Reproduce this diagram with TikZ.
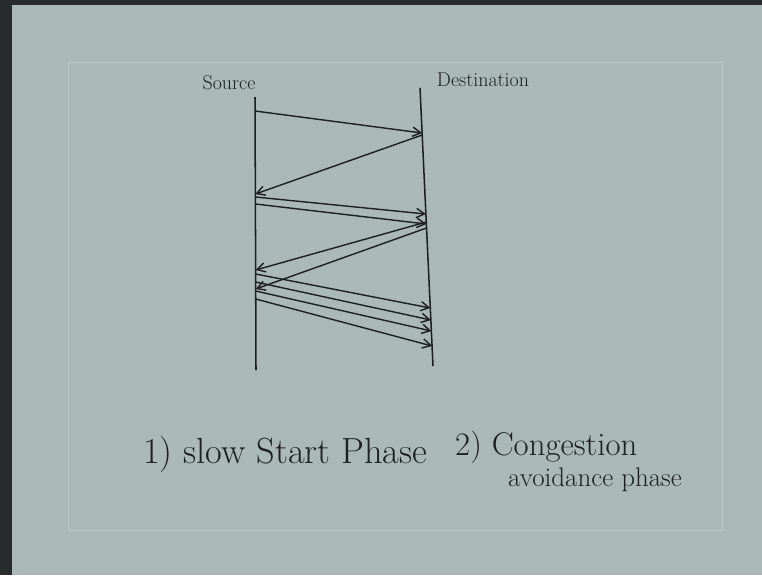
\documentclass[tikz,border=0pt]{standalone}
\definecolor{paper}{RGB}{170,184,182}
\definecolor{ink}{RGB}{28,32,32}
\definecolor{frame}{RGB}{40,44,44}
\usepackage{tikz}
\usetikzlibrary{arrows.meta, positioning, calc}

\begin{document}
\begin{tikzpicture}[x=0.03cm, y=-0.03cm,
  lifeline/.style={draw=ink, line width=1.3pt},
  msg/.style={draw=ink, line width=1.2pt, -{Straight Barb[length=7pt, width=8pt]}},
  head/.style={text=ink, font=\fontsize{17}{20}\selectfont, inner sep=0pt},
  note/.style={text=ink, font=\fontsize{31}{36}\selectfont, inner sep=0pt, anchor=base west}]
  % sheet of paper
  \fill[paper] (0,0) rectangle (762,575);
  \fill[frame] (0,0) rectangle (12,575);
  \fill[frame] (0,0) rectangle (762,5);
  \draw[paper!80!white, line width=0.8pt] (68,62) rectangle (722,530);
  \useasboundingbox (0,0) rectangle (762,575);

  % lifelines
  \coordinate (s0) at (255,97);
  \coordinate (s1) at (256,370);
  \coordinate (d0) at (420,88);
  \coordinate (d1) at (433,366);
  \draw[lifeline] (s0) -- (s1);
  \draw[lifeline] (d0) -- (d1);
  \node[head, anchor=south] (src) at (229,90) {Source};
  \node[head, anchor=south] (dst) at (483,87) {Destination};

  % source -> destination
  \foreach \a/\b [count=\i] in {111/133, 197/214, 204/224, 274/308, 282/320, 291/331, 299/346} {
    \coordinate (sa\i) at ($(s0)!{(\a-97)/273}!(s1)$);
    \coordinate (db\i) at ($(d0)!{(\b-88)/278}!(d1)$);
    \draw[msg] (sa\i) -- (db\i);
  }
  % destination -> source
  \foreach \b/\a [count=\i] in {135/194, 222/270, 228/289} {
    \coordinate (da\i) at ($(d0)!{(\b-88)/278}!(d1)$);
    \coordinate (sb\i) at ($(s0)!{(\a-97)/273}!(s1)$);
    \draw[msg] (da\i) -- (sb\i);
  }

  % phases
  \node[note] (slowstart) at (143,463) {1) slow Start Phase};
  \node[note, font=\fontsize{28}{32}\selectfont] (congestion) at (455,455) {2) Congestion};
  \node[note, font=\fontsize{23}{27}\selectfont] (avoidance) at (508,486) {avoidance phase};
\end{tikzpicture}
\end{document}
